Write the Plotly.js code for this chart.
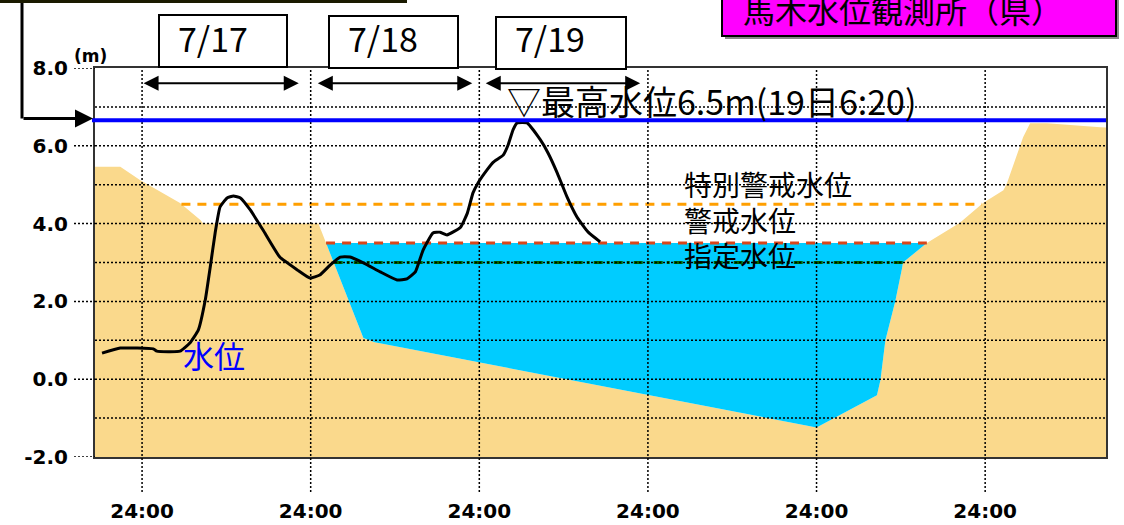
<!DOCTYPE html>
<html>
<head>
<meta charset="utf-8">
<script src="https://cdn.plot.ly/plotly-3.0.1.min.js"></script>
<style>
html,body{margin:0;padding:0;background:#fff;}
#chart{width:1124px;height:525px;}
</style>
</head>
<body>
<div id="chart"></div>
<script>
// ---- Data (x in hours from 7/17 0:00, y in metres) ----
// River cross-section (ground profile) drawn behind the hydrograph
const groundHours = [-6.7, -3.1, -0.3, 5.4, 8.3, 8.7, 25.1, 31.5, 33.1, 96.0, 104.6, 105.1, 105.8, 107.2, 108.2, 108.3, 111.7, 116.4, 119.7, 122.6, 123.1, 124.6, 125.4, 126.4, 128.8, 136.4, 137.2];
const groundLevel = [5.46, 5.46, 5.12, 4.53, 4.09, 4.0, 4.0, 1.06, 0.95, -1.24, -0.41, -0.02, 1.0, 2.0, 2.88, 3.0, 3.5, 4.02, 4.53, 4.86, 5.04, 5.8, 6.22, 6.58, 6.58, 6.48, 6.47];

// Observed water level (水位)
const stageHours = [-5.7, -3.1, 1.6, 2.1, 5.4, 6.8, 8.0, 9.0, 9.7, 10.4, 11.1, 12.1, 13.0, 14.0, 15.4, 17.2, 19.6, 22.1, 23.9, 25.3, 26.8, 28.2, 29.6, 31.5, 33.9, 36.3, 37.7, 38.9, 40.0, 41.4, 42.4, 43.4, 45.3, 46.3, 47.1, 47.8, 49.1, 50.0, 51.4, 52.1, 52.8, 53.4, 54.8, 56.7, 57.8, 59.1, 60.5, 61.9, 63.5, 65.2];
const stageLevel = [0.67, 0.80, 0.78, 0.72, 0.72, 0.93, 1.26, 2.04, 2.88, 3.76, 4.43, 4.66, 4.71, 4.66, 4.35, 3.84, 3.14, 2.81, 2.60, 2.68, 2.94, 3.14, 3.14, 2.99, 2.76, 2.55, 2.58, 2.76, 3.32, 3.76, 3.78, 3.71, 3.90, 4.27, 4.79, 5.04, 5.38, 5.58, 5.76, 6.02, 6.41, 6.59, 6.59, 6.15, 5.81, 5.30, 4.68, 4.17, 3.78, 3.53];

// Reference levels
const levelNames = ['特別警戒水位', '警戒水位', '指定水位'];
const levelValues = [4.5, 3.5, 3.0];
const waterSurface = 3.5;       // blue channel fill top
const maxLevelLine = 6.66;      // 最高水位 line as drawn
const maxLevelText = '▽最高水位6.5m(19日6:20)';
const stationName = '馬木水位観測所（県）';
const seriesName = '水位';

// Axes
const xTickVals = [0, 24, 48, 72, 96, 120];
const xTickText = ['24:00', '24:00', '24:00', '24:00', '24:00', '24:00'];
const yTickVals = [-2, 0, 2, 4, 6, 8];
const yTickText = ['-2.0', '0.0', '2.0', '4.0', '6.0', '8.0'];
const yGridVals = [-1, 0, 1, 2, 3, 4, 5, 6, 7];
const dateLabels = ['7/17', '7/18', '7/19'];
const X_RANGE = [-6.7, 137.2];
const Y_RANGE = [-2, 8];

// ---- helpers ----
const PL = 95, PR = 1106, PT = 68, PB = 457;
const pxX = p => (p - PL) / (PR - PL);
const pxY = p => (PB - p) / (PB - PT);
const JP = "'Noto Sans CJK JP', 'Noto Sans CJK SC', sans-serif";
const MONO = "'DejaVu Sans', sans-serif";

// Where the ground drops below a level (left bank / right bank crossing)
function crossings(L) {
  let left = null, right = null, li = -1, ri = -1;
  for (let i = 0; i < groundHours.length - 1; i++) {
    const a = groundLevel[i], b = groundLevel[i + 1];
    if (left === null && a >= L && b < L) {
      left = groundHours[i] + (a - L) / (a - b) * (groundHours[i + 1] - groundHours[i]);
      li = i + 1;
    }
    if (a < L && b >= L) {
      right = groundHours[i] + (L - a) / (b - a) * (groundHours[i + 1] - groundHours[i]);
      ri = i;
    }
  }
  return {left, right, li, ri};
}

// sand polygon
const sandX = groundHours.concat([groundHours[groundHours.length - 1], groundHours[0]]);
const sandY = groundLevel.concat([Y_RANGE[0], Y_RANGE[0]]);

// water polygon (ground below water surface)
const wc = crossings(waterSurface);
const waterX = [wc.left].concat(groundHours.slice(wc.li, wc.ri + 1), [wc.right]);
const waterY = [waterSurface].concat(groundLevel.slice(wc.li, wc.ri + 1), [waterSurface]);

const levelColors = ['#FF9F00', '#D9461A', '#006400'];
const levelDash = ['9px,7px', '9px,7px', '9px,4px,3px,4px'];
const levelTraces = levelValues.map((v, k) => {
  const c = crossings(v);
  return {
    x: [c.left, c.right], y: [v, v], mode: 'lines', hoverinfo: 'skip',
    line: {color: levelColors[k], width: 3, dash: levelDash[k]}, showlegend: false
  };
});

const traces = [
  {x: sandX, y: sandY, fill: 'toself', fillcolor: '#FAD98C', mode: 'lines',
   line: {width: 0, color: '#FAD98C'}, hoverinfo: 'skip', showlegend: false},
  {x: waterX, y: waterY, fill: 'toself', fillcolor: '#00CCFF', mode: 'lines',
   line: {width: 0, color: '#00CCFF'}, hoverinfo: 'skip', showlegend: false},
  ...levelTraces,
  {x: stageHours, y: stageLevel, mode: 'lines', name: seriesName,
   line: {color: '#000', width: 3, shape: 'spline', smoothing: 0.4}, showlegend: false}
];

// ---- shapes ----
const shapes = [];
const gridLine = {color: '#000', width: 1.5, dash: '2px,2px'};
yGridVals.forEach(v => shapes.push({type: 'line', xref: 'paper', yref: 'y', x0: 0, x1: 1, y0: v, y1: v, line: gridLine, layer: 'above'}));
xTickVals.forEach(v => shapes.push({type: 'line', xref: 'x', yref: 'paper', x0: v, x1: v, y0: pxY(492), y1: 1, line: gridLine, layer: 'above'}));
yTickVals.forEach(v => shapes.push({type: 'line', xref: 'paper', yref: 'y', x0: pxX(74), x1: 0, y0: v, y1: v, line: gridLine, layer: 'above'}));
// max level line
shapes.push({type: 'line', xref: 'paper', yref: 'y', x0: pxX(92), x1: 1, y0: maxLevelLine, y1: maxLevelLine,
  line: {color: '#0000FF', width: 4}, layer: 'above'});
// top-left pointer
shapes.push({type: 'line', xref: 'paper', yref: 'paper', x0: pxX(22), x1: pxX(22), y0: pxY(-2), y1: pxY(118.5),
  line: {color: '#000', width: 3}, layer: 'above'});
shapes.push({type: 'line', xref: 'paper', yref: 'paper', x0: pxX(-5), x1: pxX(407), y0: pxY(1.5), y1: pxY(1.5),
  line: {color: '#1a1a00', width: 3}, layer: 'above'});
// date boxes
const dateBoxes = [[159, 287, 15, 67], [329, 458, 16, 68], [496, 626, 17, 69]];
dateBoxes.forEach(b => shapes.push({type: 'rect', xref: 'paper', yref: 'paper',
  x0: pxX(b[0]), x1: pxX(b[1]), y0: pxY(b[3]), y1: pxY(b[2]),
  line: {color: '#000', width: 2}, fillcolor: '#fff', layer: 'above'}));
// station box (shadow + box)
shapes.push({type: 'rect', xref: 'paper', yref: 'paper', x0: pxX(725), x1: pxX(1119), y0: pxY(39), y1: pxY(-20),
  line: {width: 0}, fillcolor: '#888', layer: 'above'});
shapes.push({type: 'rect', xref: 'paper', yref: 'paper', x0: pxX(722), x1: pxX(1116), y0: pxY(36), y1: pxY(-20),
  line: {color: '#000', width: 2}, fillcolor: '#FF00FF', layer: 'above'});

// ---- annotations ----
const annotations = [];
// pointer arrow to max line
annotations.push({xref: 'paper', yref: 'paper', x: pxX(93), y: pxY(118.5), ax: -71, ay: 0, text: '',
  showarrow: true, arrowhead: 2, arrowsize: 1.2, arrowwidth: 3, arrowcolor: '#000'});
// day span arrows
const spanStart = [0, 24.8, 48.7], spanEnd = [22.3, 47.0, 70.9];
const spanY = 7.61;
dateLabels.forEach((d, k) => {
  annotations.push({xref: 'x', yref: 'y', axref: 'x', ayref: 'y', x: spanEnd[k], y: spanY, ax: spanStart[k], ay: spanY,
    text: '', showarrow: true, arrowside: 'end+start', arrowhead: 2, startarrowhead: 2,
    arrowsize: 1.5, startarrowsize: 1.5, arrowwidth: 2, arrowcolor: '#000', standoff: 0, startstandoff: 0});
  annotations.push({xref: 'paper', yref: 'paper', x: pxX(dateBoxes[k][0] + 17), y: pxY(38), xanchor: 'left', yanchor: 'middle',
    text: d, showarrow: false, font: {family: JP, size: 34, color: '#000'}});
});
annotations.push({xref: 'paper', yref: 'paper', x: pxX(903), y: pxY(9), xanchor: 'center', yanchor: 'middle',
  text: stationName, showarrow: false, font: {family: JP, size: 32, color: '#000'}});
annotations.push({xref: 'paper', yref: 'paper', x: pxX(505), y: pxY(101), xanchor: 'left', yanchor: 'middle',
  text: maxLevelText, showarrow: false, font: {family: JP, size: 34, color: '#000'}});
const levelLabelY = [184, 220, 255];
levelNames.forEach((n, k) => annotations.push({xref: 'paper', yref: 'paper', x: pxX(682), y: pxY(levelLabelY[k]),
  xanchor: 'left', yanchor: 'middle', text: n, showarrow: false, font: {family: JP, size: 28, color: '#000'}}));
annotations.push({xref: 'paper', yref: 'paper', x: pxX(181), y: pxY(354), xanchor: 'left', yanchor: 'middle',
  text: seriesName, showarrow: false, font: {family: JP, size: 31, color: '#0000FF'}});
annotations.push({xref: 'paper', yref: 'paper', x: pxX(72), y: pxY(56), xanchor: 'left', yanchor: 'middle',
  text: '(m)', showarrow: false, font: {family: MONO, size: 17, color: '#000', weight: 'bold'}});

const layout = {
  width: 1124, height: 525,
  margin: {l: PL, r: 1124 - PR, t: PT, b: 525 - PB, pad: 0},
  paper_bgcolor: '#fff', plot_bgcolor: '#fff',
  showlegend: false,
  xaxis: {
    range: X_RANGE, tickmode: 'array', tickvals: xTickVals, ticktext: xTickText,
    ticks: 'outside', ticklen: 35, tickcolor: 'rgba(0,0,0,0)',
    showgrid: false, zeroline: false, showline: true, mirror: true, linecolor: '#333', linewidth: 2,
    tickfont: {family: MONO, size: 20, color: '#000', weight: 'bold'}, fixedrange: true
  },
  yaxis: {
    range: Y_RANGE, tickmode: 'array', tickvals: yTickVals, ticktext: yTickText,
    ticks: 'outside', ticklen: 21, tickcolor: 'rgba(0,0,0,0)',
    showgrid: false, zeroline: false, showline: true, mirror: true, linecolor: '#333', linewidth: 2,
    tickfont: {family: MONO, size: 20, color: '#000', weight: 'bold'}, fixedrange: true
  },
  shapes: shapes,
  annotations: annotations
};

Plotly.newPlot('chart', traces, layout, {displayModeBar: false, staticPlot: true});
</script>
</body>
</html>
